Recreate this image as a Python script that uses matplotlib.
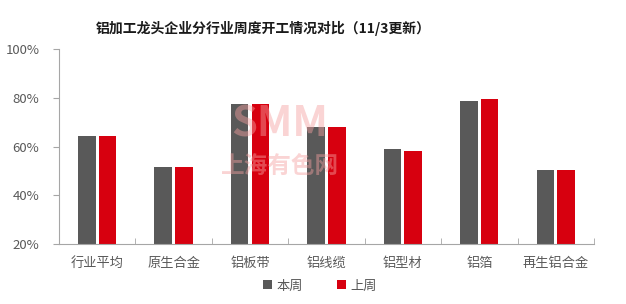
import numpy as np
import matplotlib.pyplot as plt
from matplotlib.ticker import FuncFormatter

plt.rcParams['font.family'] = ['Noto Sans CJK SC', 'DejaVu Sans']

categories = ['行业平均', '原生合金', '铝板带', '铝线缆', '铝型材', '铝箔', '再生铝合金']
this_week = [64.2, 51.5, 77.5, 67.8, 58.8, 78.8, 50.2]
last_week = [64.2, 51.5, 77.5, 67.8, 58.0, 79.5, 50.2]

gray = '#595959'
red = '#d7000f'
axis_color = '#a6a6a6'
text_color = '#595959'

fig = plt.figure(figsize=(6.26, 3.04), dpi=100)
ax = fig.add_axes([0.094, 0.197, 0.855, 0.642])

x = np.arange(len(categories))
w = 0.23
ax.bar(x - 0.135, this_week, width=w, color=gray, label='本周', zorder=2)
ax.bar(x + 0.135, last_week, width=w, color=red, label='上周', zorder=2)

ax.set_xlim(-0.5, len(categories) - 0.5)
ax.set_ylim(20, 100)
ax.set_yticks([20, 40, 60, 80, 100])
ax.yaxis.set_major_formatter(FuncFormatter(lambda v, p: f'{v:.0f}%'))
ax.set_xticks(x)
ax.set_xticklabels(categories)
ax.set_xticks(np.arange(len(categories) + 1) - 0.5, minor=True)

for s in ['top', 'right']:
    ax.spines[s].set_visible(False)
for s in ['left', 'bottom']:
    ax.spines[s].set_color(axis_color)
    ax.spines[s].set_linewidth(0.8)

ax.tick_params(axis='x', which='major', length=0, pad=9, labelsize=9.5, labelcolor=text_color)
ax.tick_params(axis='x', which='minor', direction='in', length=4, color=axis_color)
ax.tick_params(axis='y', length=4, color=axis_color, pad=10, labelsize=9.5, labelcolor=text_color)

# watermark
fig.text(0.447, 0.59, 'SMM', fontsize=30, fontweight='bold', color='#f4a0a0',
         alpha=0.45, ha='center', va='center', zorder=5)
fig.text(0.447, 0.455, '上海有色网', fontsize=17, fontweight='bold', color='#f4a0a0',
         alpha=0.45, ha='center', va='center', zorder=5)

fig.text(0.42, 0.905, '铝加工龙头企业分行业周度开工情况对比（11/3更新）',
         fontsize=10, fontweight='bold', color='#1a1a1a', ha='center', va='center')

ax.legend(loc='upper center', bbox_to_anchor=(0.488, -0.12), ncol=2, frameon=False,
          fontsize=9.5, handlelength=0.7, handleheight=0.7, columnspacing=2.6,
          handletextpad=0.3, labelcolor=text_color)

fig.savefig('out.png', dpi=100)
